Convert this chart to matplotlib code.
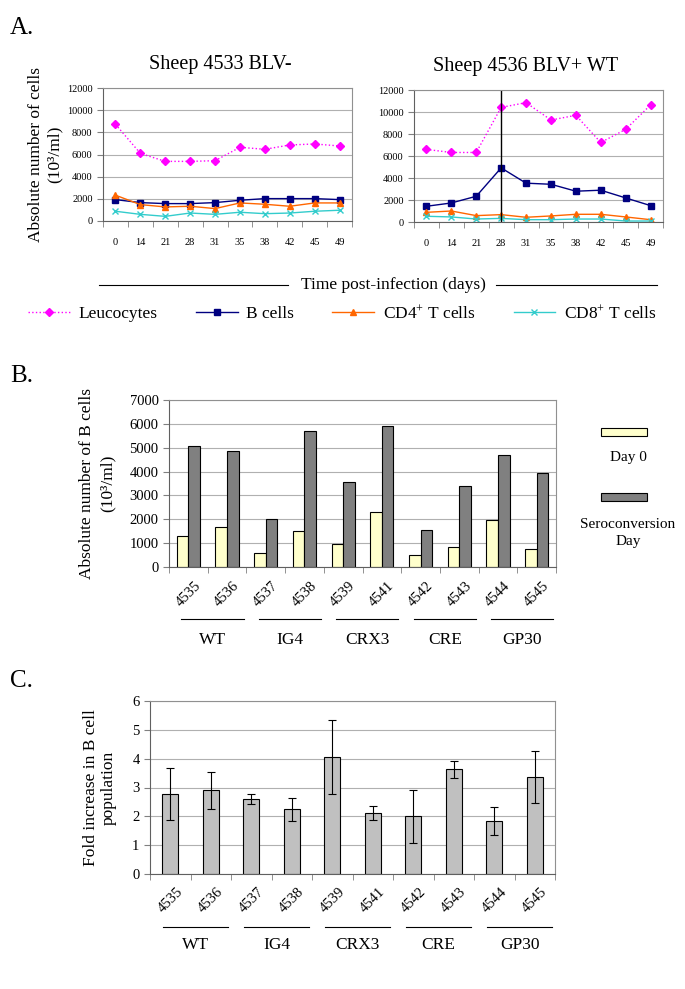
import numpy as np
import matplotlib
matplotlib.use("Agg")
import matplotlib.pyplot as plt
from matplotlib.patches import Rectangle
from matplotlib.lines import Line2D

plt.rcParams['font.family'] = ['Liberation Serif', 'DejaVu Serif']
plt.rcParams['mathtext.fontset'] = 'custom'
plt.rcParams['mathtext.rm'] = 'Liberation Serif'
plt.rcParams['mathtext.default'] = 'rm'

# Painel A
days = ['0', '14', '21', '28', '31', '35', '38', '42', '45', '49']
s4533_leuco = [8730, 6100, 5380, 5380, 5440, 6650, 6470, 6860, 6950, 6770]
s4533_bcell = [1930, 1660, 1570, 1570, 1660, 1870, 2020, 2020, 2020, 1930]
s4533_cd4 = [2330, 1480, 1270, 1330, 1120, 1630, 1510, 1330, 1630, 1630]
s4533_cd8 = [880, 600, 420, 720, 600, 790, 660, 720, 880, 970]

s4536_leuco = [6600, 6320, 6320, 10420, 10850, 9270, 9700, 7230, 8420, 10640]
s4536_bcell = [1430, 1730, 2340, 4920, 3530, 3430, 2800, 2890, 2190, 1490]
s4536_cd4 = [880, 1000, 580, 670, 430, 550, 700, 700, 460, 210]
s4536_cd8 = [520, 460, 270, 330, 210, 210, 270, 270, 90, 90]
seroconv_day = '28'

# Painel B
sheep = ['4535', '4536', '4537', '4538', '4539', '4541', '4542', '4543', '4544', '4545']
groups = ['WT', 'IG4', 'CRX3', 'CRE', 'GP30']
day0 = [1300, 1670, 590, 1490, 980, 2290, 500, 840, 1970, 740]
sero_day = [5080, 4850, 2010, 5720, 3560, 5910, 1560, 3400, 4690, 3930]

# Painel C
fold = [2.79, 2.90, 2.61, 2.25, 4.06, 2.12, 2.00, 3.63, 1.85, 3.36]
fold_err = [0.90, 0.63, 0.18, 0.40, 1.27, 0.24, 0.91, 0.30, 0.49, 0.89]

W, H = 685, 989
fig = plt.figure(figsize=(W / 100, H / 100), dpi=100)


def rect(l, t, r, b):
    return [l / W, 1 - b / H, (r - l) / W, (b - t) / H]


def excel_axes(ax, n, frame='#909090'):
    ax.set_xlim(-0.5, n - 0.5)
    ax.set_xticks(np.arange(n))
    ax.set_xticks(np.arange(n + 1) - 0.5, minor=True)
    ax.tick_params(axis='x', which='major', length=0)
    ax.tick_params(axis='x', which='minor', length=4, color='#808080', direction='out')
    ax.tick_params(axis='y', length=4, color='#808080', direction='out')
    ax.grid(axis='y', color='#B0B0B0', lw=0.8)
    ax.set_axisbelow(True)
    for s in ['top', 'right']:
        ax.spines[s].set_color(frame)
        ax.spines[s].set_linewidth(0.8)
    for s in ['left', 'bottom']:
        ax.spines[s].set_color('#606060')
        ax.spines[s].set_linewidth(0.8)


# ---- A ----
fig.text(10 / W, 1 - 28 / H, 'A.', fontsize=18, va='center', ha='left')
panels = [
    (rect(103, 88, 352, 221), 'Sheep 4533 BLV-', s4533_leuco, s4533_bcell, s4533_cd4, s4533_cd8, 0.47),
    (rect(414, 90, 663, 222), 'Sheep 4536 BLV+ WT', s4536_leuco, s4536_bcell, s4536_cd4, s4536_cd8, 0.45),
]
x = np.arange(len(days))
axes_a = []
for r, title, leu, bc, c4, c8, tx in panels:
    ax = fig.add_axes(r)
    ax.plot(x, leu, ls=':', color='#FF00FF', marker='D', ms=4, lw=1, label='Leucocytes')
    ax.plot(x, bc, ls='-', color='#000080', marker='s', ms=4, lw=1, label='B cells')
    ax.plot(x, c4, ls='-', color='#FF6600', marker='^', ms=5, lw=1, label='CD4$^{+}$ T cells')
    ax.plot(x, c8, ls='-', color='#33CCCC', marker='x', ms=4, mew=1, lw=1, label='CD8$^{+}$ T cells')
    excel_axes(ax, len(days))
    ax.set_ylim(0, 12000)
    ax.set_yticks(range(0, 12001, 2000))
    ax.set_xticklabels(days)
    ax.tick_params(axis='x', which='major', labelsize=7.5, pad=12)
    ax.tick_params(axis='y', labelsize=7.5)
    ax.set_title(title, fontsize=14.5, pad=14, x=tx)
    axes_a.append(ax)

axes_a[1].axvline(days.index(seroconv_day), color='black', lw=1)
axes_a[0].set_ylabel('Absolute number of cells\n(10³/ml)', fontsize=12.5, labelpad=3)

# ligne "Time post-infection"
fig.add_artist(Line2D([99 / W, 288 / W], [1 - 285 / H] * 2, color='black', lw=0.8))
fig.add_artist(Line2D([496 / W, 657 / W], [1 - 285 / H] * 2, color='black', lw=0.8))
fig.text(393 / W, 1 - 285 / H, 'Time post-infection (days)', fontsize=12.5, ha='center', va='center')

handles, labels = axes_a[0].get_legend_handles_labels()
fig.legend(handles, labels, loc='center', bbox_to_anchor=(0.5, 1 - 313 / H), ncol=4,
           frameon=False, fontsize=12.5, handlelength=2.4, handletextpad=0.5, columnspacing=2.2)

# ---- B ----
fig.text(10 / W, 1 - 376 / H, 'B.', fontsize=18, va='center', ha='left')
axb = fig.add_axes(rect(169, 400, 556, 567))
xb = np.arange(len(sheep))
axb.bar(xb - 0.15, day0, width=0.3, color='#FFFFCC', edgecolor='black', lw=0.8)
axb.bar(xb + 0.15, sero_day, width=0.3, color='#808080', edgecolor='black', lw=0.8)
excel_axes(axb, len(sheep))
axb.set_ylim(0, 7000)
axb.set_yticks(range(0, 7001, 1000))
axb.set_xticklabels(sheep, rotation=45)
axb.tick_params(axis='x', which='major', labelsize=10.5, pad=9)
axb.tick_params(axis='y', labelsize=10.5)
axb.set_ylabel('Absolute number of B cells\n(10³/ml)', fontsize=12.5, labelpad=10, linespacing=1.4)

# legende B
fig.add_artist(Rectangle((601 / W, 1 - 436 / H), 46 / W, 8 / H, transform=fig.transFigure,
                         facecolor='#FFFFCC', edgecolor='black', lw=0.8))
fig.add_artist(Rectangle((601 / W, 1 - 501 / H), 46 / W, 8 / H, transform=fig.transFigure,
                         facecolor='#808080', edgecolor='black', lw=0.8))
fig.text(628 / W, 1 - 458 / H, 'Day 0', fontsize=11, ha='center', va='center')
fig.text(628 / W, 1 - 533 / H, 'Seroconversion\nDay', fontsize=11, ha='center', va='center',
         linespacing=1.5)

# ---- C ----
fig.text(10 / W, 1 - 681 / H, 'C.', fontsize=18, va='center', ha='left')
axc = fig.add_axes(rect(150, 701, 555, 874))
xc = np.arange(len(sheep))
axc.bar(xc, fold, width=0.4, color='#C0C0C0', edgecolor='black', lw=0.8,
        yerr=fold_err, capsize=3, error_kw=dict(elinewidth=0.8, ecolor='black', capthick=0.8))
excel_axes(axc, len(sheep))
axc.set_ylim(0, 6)
axc.set_yticks(range(0, 7))
axc.set_xticklabels(sheep, rotation=45)
axc.tick_params(axis='x', which='major', labelsize=10.5, pad=8)
axc.tick_params(axis='y', labelsize=10.5)
axc.set_ylabel('Fold increase in B cell\npopulation', fontsize=12.5, labelpad=11)


# groupes sous les axes B et C
def group_lines(ax, yline, ytext):
    tr = ax.get_xaxis_transform()
    for i, g in enumerate(groups):
        a, b = 2 * i - 0.18, 2 * i + 1 + 0.43
        ax.plot([a, b], [yline, yline], color='black', lw=0.8, transform=tr, clip_on=False)
        ax.text((a + b) / 2, ytext, g, transform=tr, ha='center', va='center', fontsize=12.5)


group_lines(axb, (567 - 619) / 167, (567 - 640) / 167)
group_lines(axc, (874 - 927) / 173, (874 - 945) / 173)

fig.savefig('out.png', dpi=100)
